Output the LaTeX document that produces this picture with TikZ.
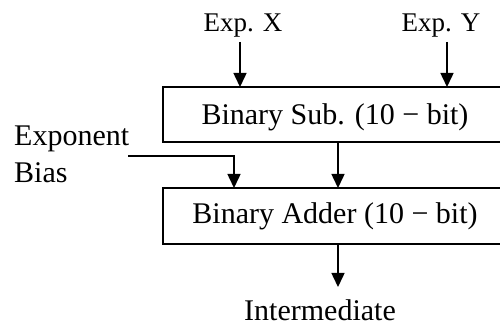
\documentclass[tikz,border=0pt]{standalone}
\usepackage{fontspec}
\setmainfont{Liberation Serif}
\usetikzlibrary{arrows.meta}
\begin{document}
\begin{tikzpicture}[x=1pt,y=-1pt,
  lbl/.style={inner sep=0pt,font=\fontsize{30}{34}\selectfont},
  slbl/.style={inner sep=0pt,font=\fontsize{27}{30}\selectfont},
  conn/.style={line width=1.5pt,-{Triangle[width=13pt,length=14pt]}},
  wire/.style={line width=1.5pt}]
\useasboundingbox (0,0) rectangle (500,328);
\clip (0,0) rectangle (500,328);
\draw[line width=1.3pt] (163,87) rectangle (520,142);
\draw[line width=1.3pt] (163,188) rectangle (520,244);
\node[lbl,anchor=base] (sub) at (335,125) {Binary Sub. (10 − bit)};
\node[lbl,anchor=base] (add) at (335,224) {Binary Adder (10 − bit)};
\coordinate (subB) at (338,142);
\coordinate (subTX) at (240,87);
\coordinate (subTY) at (447,87);
\coordinate (addT1) at (234,188);
\coordinate (addT2) at (338,188);
\coordinate (addB) at (338,244);
\node[slbl,anchor=base] (ex) at (243,32) {Exp. X};
\node[slbl,anchor=base] (ey) at (441,32) {Exp. Y};
\node[lbl,anchor=base west] (eb1) at (14,146) {Exponent};
\node[lbl,anchor=base west] (eb2) at (14,183) {Bias};
\node[lbl,anchor=base] (inter) at (320,320) {Intermediate};
\coordinate (bstart) at (128,156);
\draw[conn] (240,42) -- (subTX);
\draw[conn] (447,42) -- (subTY);
\draw[conn] (bstart) -| (addT1);
\draw[conn] (subB) -- (addT2);
\draw[conn] (addB) -- (338,287);
\end{tikzpicture}
\end{document}
